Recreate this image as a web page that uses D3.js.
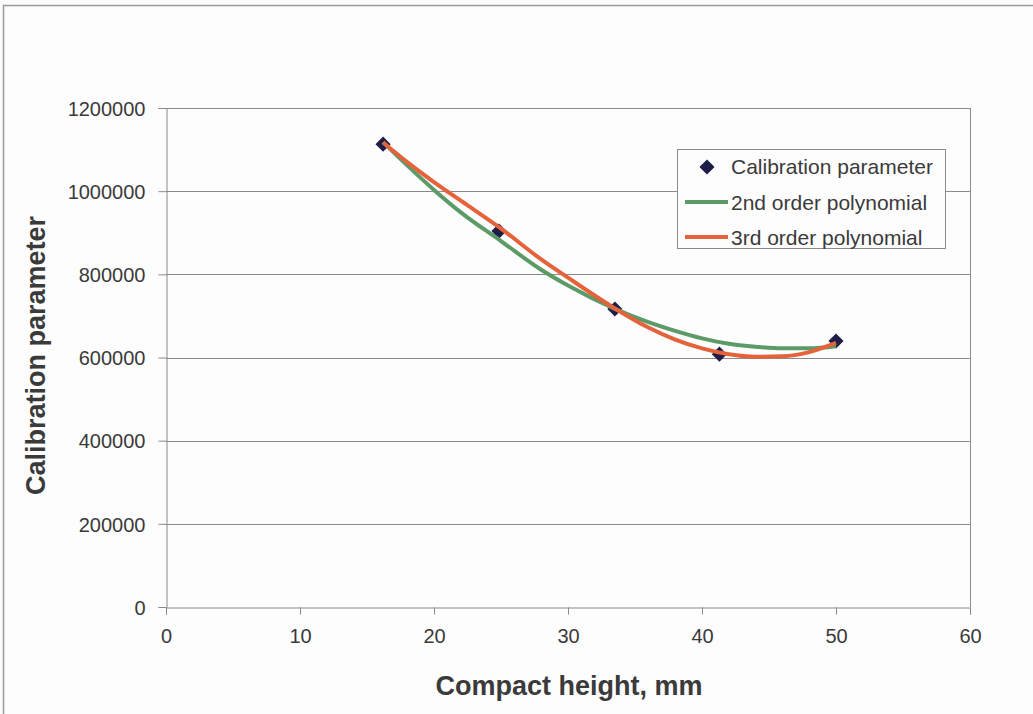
<!DOCTYPE html>
<html>
<head>
<meta charset="utf-8">
<script src="https://cdn.jsdelivr.net/npm/d3@7"></script>
<style>
  html, body { margin: 0; padding: 0; background: #fdfdfd; }
  svg { display: block; font-family: "Liberation Sans", Arial, sans-serif; }
</style>
</head>
<body>
<svg id="chart" width="1033" height="714"></svg>
<script>
// Measured calibration parameter versus compact height
const heights = [16.2, 24.85, 33.5, 41.3, 50.0];
const calibration = [1113000, 904000, 716600, 608000, 639700];

// Fitted polynomial curves, sampled along compact height
const fitHeights = [16.2, 18, 20, 22, 25, 28, 30, 33.5, 36, 38, 40, 42, 44, 46, 48, 50];
const poly2 = [1118000, 1062000, 1003000, 949000, 880000, 811000, 773000, 717000,
               685000, 664000, 646000, 633000, 626000, 622000, 622000, 627000];
const poly3 = [1117000, 1070000, 1022000, 977000, 910000, 836000, 792000, 718000,
               672000, 643000, 622000, 608000, 602000, 603000, 613000, 635000];

const xTicks = [0, 10, 20, 30, 40, 50, 60];
const yTicks = [0, 200000, 400000, 600000, 800000, 1000000, 1200000];

const seriesNames = ["Calibration parameter", "2nd order polynomial", "3rd order polynomial"];
const axisTitles = { x: "Compact height, mm", y: "Calibration parameter" };

const svg = d3.select("#chart");
const plot = { left: 166, right: 970, top: 108, bottom: 607 };
const x = d3.scaleLinear().domain([0, 60]).range([plot.left, plot.right]);
const y = d3.scaleLinear().domain([0, 1200000]).range([plot.bottom, plot.top]);

const gray = "#8a8a8a";
const textColor = "#3a3a3a";
const green = "#5c9b68";
const red = "#e4633b";
const navy = "#1d1d47";

// outer chart frame
svg.append("rect")
  .attr("x", 3.5).attr("y", 5.5).attr("width", 1040).attr("height", 720)
  .attr("fill", "#fdfdfd").attr("stroke", "#9a9a9a").attr("stroke-width", 1.5);

// horizontal gridlines
svg.append("g").selectAll("line").data(yTicks.slice(1)).join("line")
  .attr("x1", plot.left).attr("x2", plot.right)
  .attr("y1", d => Math.round(y(d)) + 0.5).attr("y2", d => Math.round(y(d)) + 0.5)
  .attr("stroke", gray).attr("stroke-width", 1);

// right border of the plot area
svg.append("line")
  .attr("x1", plot.right + 0.5).attr("x2", plot.right + 0.5)
  .attr("y1", plot.top).attr("y2", plot.bottom)
  .attr("stroke", gray);

// axes
const xAxis = d3.axisBottom(x).tickValues(xTicks).tickSize(7).tickPadding(14).tickFormat(d3.format("d"));
const yAxis = d3.axisLeft(y).tickValues(yTicks).tickSize(8).tickPadding(13).tickFormat(d3.format("d"));

const gx = svg.append("g").attr("transform", `translate(0,${Math.round(y(0)) + 0.5})`).call(xAxis);
const gy = svg.append("g").attr("transform", `translate(${plot.left + 0.5},0)`).call(yAxis);
[gx, gy].forEach(g => {
  g.select(".domain").attr("stroke", gray);
  g.selectAll(".tick line").attr("stroke", gray);
  g.selectAll(".tick text").attr("fill", textColor)
    .style("font-size", "20px").style("font-family", "'Liberation Sans', Arial, sans-serif");
});
gy.selectAll(".tick text").attr("dy", "0.36em");

// axis titles
svg.append("text")
  .attr("x", (plot.left + plot.right) / 2 + 1).attr("y", 695)
  .attr("text-anchor", "middle").attr("fill", textColor)
  .style("font-size", "27px").style("font-weight", "bold")
  .text(axisTitles.x);
svg.append("text")
  .attr("transform", `translate(45,${(plot.top + plot.bottom) / 2 - 2}) rotate(-90)`)
  .attr("text-anchor", "middle").attr("fill", textColor)
  .style("font-size", "27px").style("font-weight", "bold")
  .text(axisTitles.y);

// data markers
const diamond = d3.symbol().type(d3.symbolSquare).size(115);
svg.append("g").selectAll("path").data(heights.map((h, i) => [h, calibration[i]])).join("path")
  .attr("d", diamond)
  .attr("transform", d => `translate(${x(d[0])},${y(d[1])}) rotate(45)`)
  .attr("fill", navy);

// polynomial curves
const line = d3.line().x(d => x(d[0])).y(d => y(d[1])).curve(d3.curveMonotoneX);
svg.append("path")
  .datum(fitHeights.map((h, i) => [h, poly2[i]]))
  .attr("d", line).attr("fill", "none").attr("stroke", green)
  .attr("stroke-width", 4).attr("stroke-linejoin", "round");
svg.append("path")
  .datum(fitHeights.map((h, i) => [h, poly3[i]]))
  .attr("d", line).attr("fill", "none").attr("stroke", red)
  .attr("stroke-width", 4).attr("stroke-linejoin", "round");

// legend
const legend = svg.append("g").attr("transform", "translate(677,149)");
legend.append("rect")
  .attr("x", 0.5).attr("y", 0.5).attr("width", 268).attr("height", 99)
  .attr("fill", "#fdfdfd").attr("stroke", gray);
const rows = [17, 53, 88];
legend.append("path").attr("d", diamond)
  .attr("transform", `translate(30,${rows[0] + 1}) rotate(45)`).attr("fill", navy);
legend.append("line").attr("x1", 8).attr("x2", 51).attr("y1", rows[1]).attr("y2", rows[1])
  .attr("stroke", green).attr("stroke-width", 4);
legend.append("line").attr("x1", 8).attr("x2", 51).attr("y1", rows[2]).attr("y2", rows[2])
  .attr("stroke", red).attr("stroke-width", 4);
legend.selectAll("text").data(seriesNames).join("text")
  .attr("x", 54).attr("y", (d, i) => rows[i]).attr("dy", "0.36em")
  .attr("fill", textColor).style("font-size", "21px")
  .text(d => d);
</script>
</body>
</html>
